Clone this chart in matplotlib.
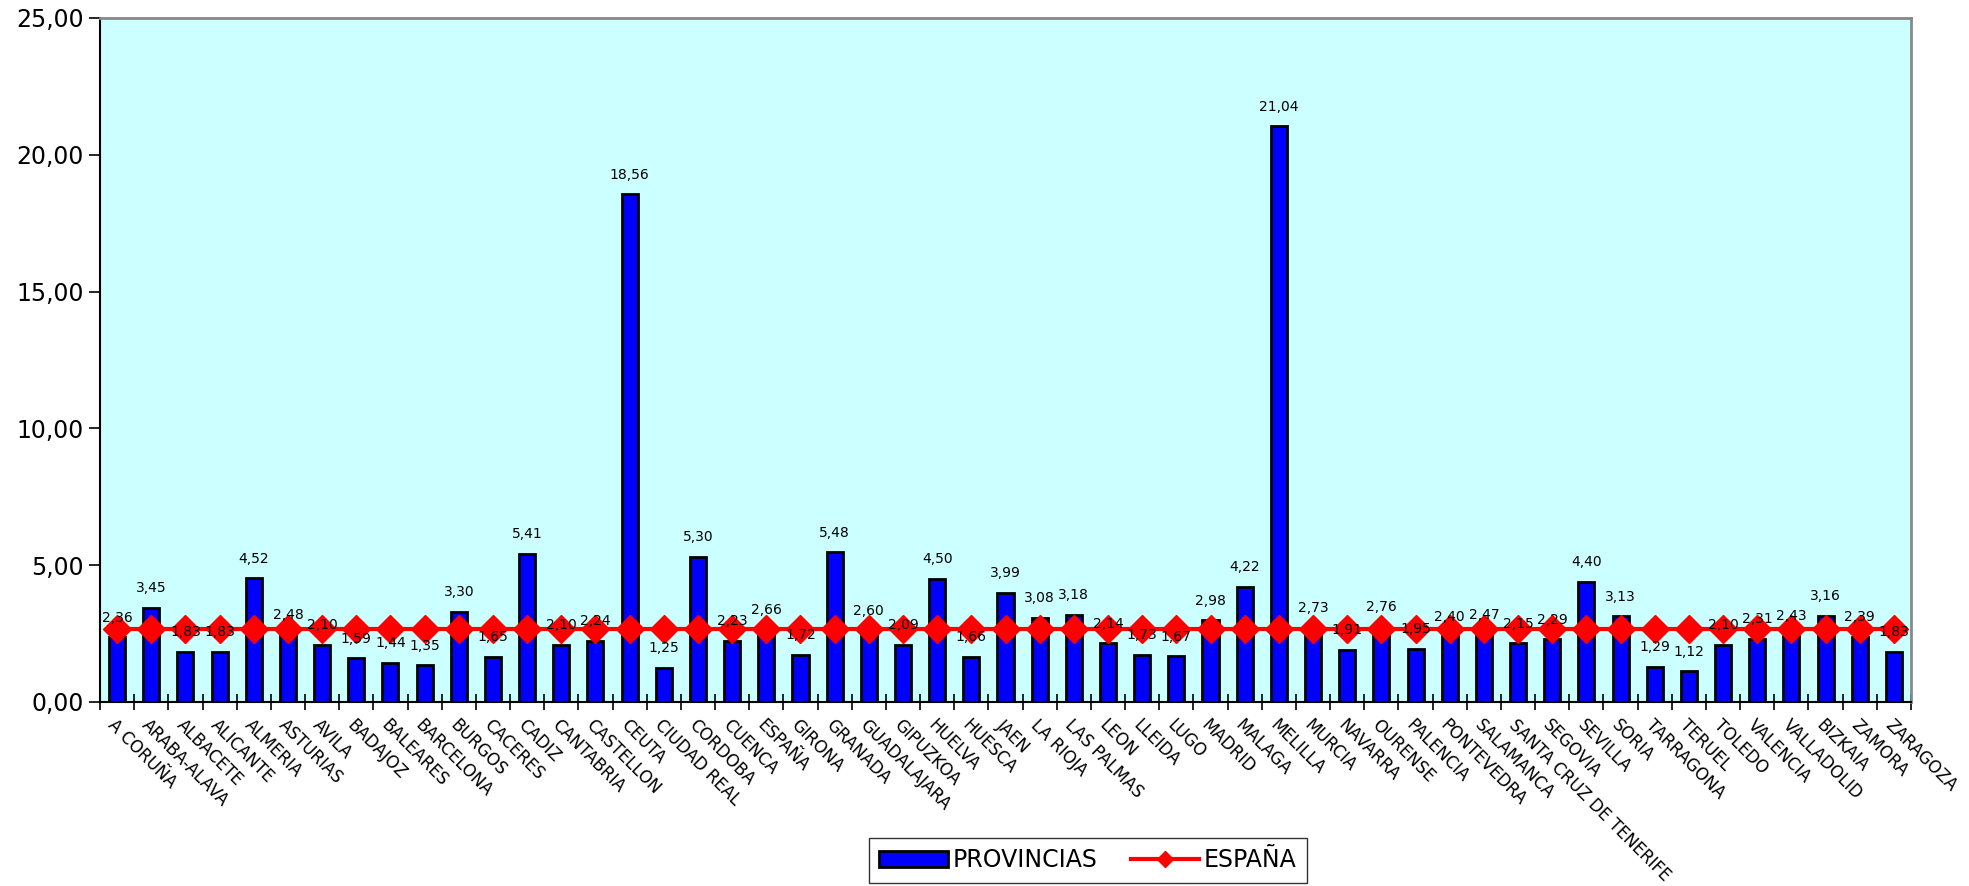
import numpy as np
import matplotlib.pyplot as plt
from matplotlib.ticker import FuncFormatter, MultipleLocator

provincias = ['A CORUÑA', 'ARABA-ALAVA', 'ALBACETE', 'ALICANTE', 'ALMERIA',
              'ASTURIAS', 'AVILA', 'BADAJOZ', 'BALEARES', 'BARCELONA',
              'BURGOS', 'CACERES', 'CADIZ', 'CANTABRIA', 'CASTELLON', 'CEUTA',
              'CIUDAD REAL', 'CORDOBA', 'CUENCA', 'ESPAÑA', 'GIRONA',
              'GRANADA', 'GUADALAJARA', 'GIPUZKOA', 'HUELVA', 'HUESCA',
              'JAEN', 'LA RIOJA', 'LAS PALMAS', 'LEON', 'LLEIDA', 'LUGO',
              'MADRID', 'MALAGA', 'MELILLA', 'MURCIA', 'NAVARRA', 'OURENSE',
              'PALENCIA', 'PONTEVEDRA', 'SALAMANCA', 'SANTA CRUZ DE TENERIFE',
              'SEGOVIA', 'SEVILLA', 'SORIA', 'TARRAGONA', 'TERUEL', 'TOLEDO',
              'VALENCIA', 'VALLADOLID', 'BIZKAIA', 'ZAMORA', 'ZARAGOZA']
valores = [2.36, 3.45, 1.83, 1.83, 4.52, 2.48, 2.10, 1.59, 1.44, 1.35,
           3.30, 1.65, 5.41, 2.10, 2.24, 18.56, 1.25, 5.30, 2.23, 2.66,
           1.72, 5.48, 2.60, 2.09, 4.50, 1.66, 3.99, 3.08, 3.18, 2.14,
           1.73, 1.67, 2.98, 4.22, 21.04, 2.73, 1.91, 2.76, 1.95, 2.40,
           2.47, 2.15, 2.29, 4.40, 3.13, 1.29, 1.12, 2.10, 2.31, 2.43,
           3.16, 2.39, 1.83]
espana = [2.66] * len(provincias)

fig = plt.figure(figsize=(19.69, 8.86), dpi=100)
ax = fig.add_axes([100 / 1969, 1 - 702 / 886, (1911 - 100) / 1969, (702 - 18) / 886])
ax.set_facecolor('#CCFFFF')

x = np.arange(len(provincias))
barras = ax.bar(x, valores, width=0.47, color='#0000FF', edgecolor='black',
                linewidth=2, label='PROVINCIAS', zorder=2)
linea, = ax.plot(x, espana, color='#FF0000', linewidth=3, marker='D',
                 markersize=14, label='ESPAÑA', zorder=3)

for xi, v in zip(x, valores):
    ax.annotate(('%.2f' % v).replace('.', ','), (xi, v), xytext=(0, 9),
                textcoords='offset points', ha='center', va='bottom',
                fontsize=10, zorder=4)

ax.set_xlim(-0.5, len(provincias) - 0.5)
ax.set_ylim(0, 25)
ax.yaxis.set_major_locator(MultipleLocator(5))
ax.yaxis.set_major_formatter(FuncFormatter(lambda v, p: ('%.2f' % v).replace('.', ',')))
ax.tick_params(axis='y', labelsize=17, direction='out', length=8, width=1.2)

ax.set_xticks(x)
ax.set_xticklabels(provincias, rotation=-45, ha='left', va='top',
                   rotation_mode='anchor', fontsize=12)
ax.tick_params(axis='x', length=0, pad=10)
ax.set_xticks(np.arange(-0.5, len(provincias), 1), minor=True)
ax.tick_params(axis='x', which='minor', direction='inout', length=12, width=1.2)

ax.spines['left'].set_linewidth(1.5)
ax.spines['bottom'].set_linewidth(1.5)
ax.spines['top'].set_color('#888888')
ax.spines['right'].set_color('#888888')
ax.spines['top'].set_linewidth(2)
ax.spines['right'].set_linewidth(2)

leg = fig.legend([barras, linea], ['PROVINCIAS', 'ESPAÑA'], loc='lower center',
                 bbox_to_anchor=(1088 / 1969, -0.01), ncol=2, fontsize=17,
                 frameon=True, fancybox=False, edgecolor='black',
                 handlelength=2.9, columnspacing=1.4, handletextpad=0.2,
                 borderpad=0.45, markerscale=0.55)
leg.get_frame().set_linewidth(1)

fig.savefig('out.png', dpi=100)
